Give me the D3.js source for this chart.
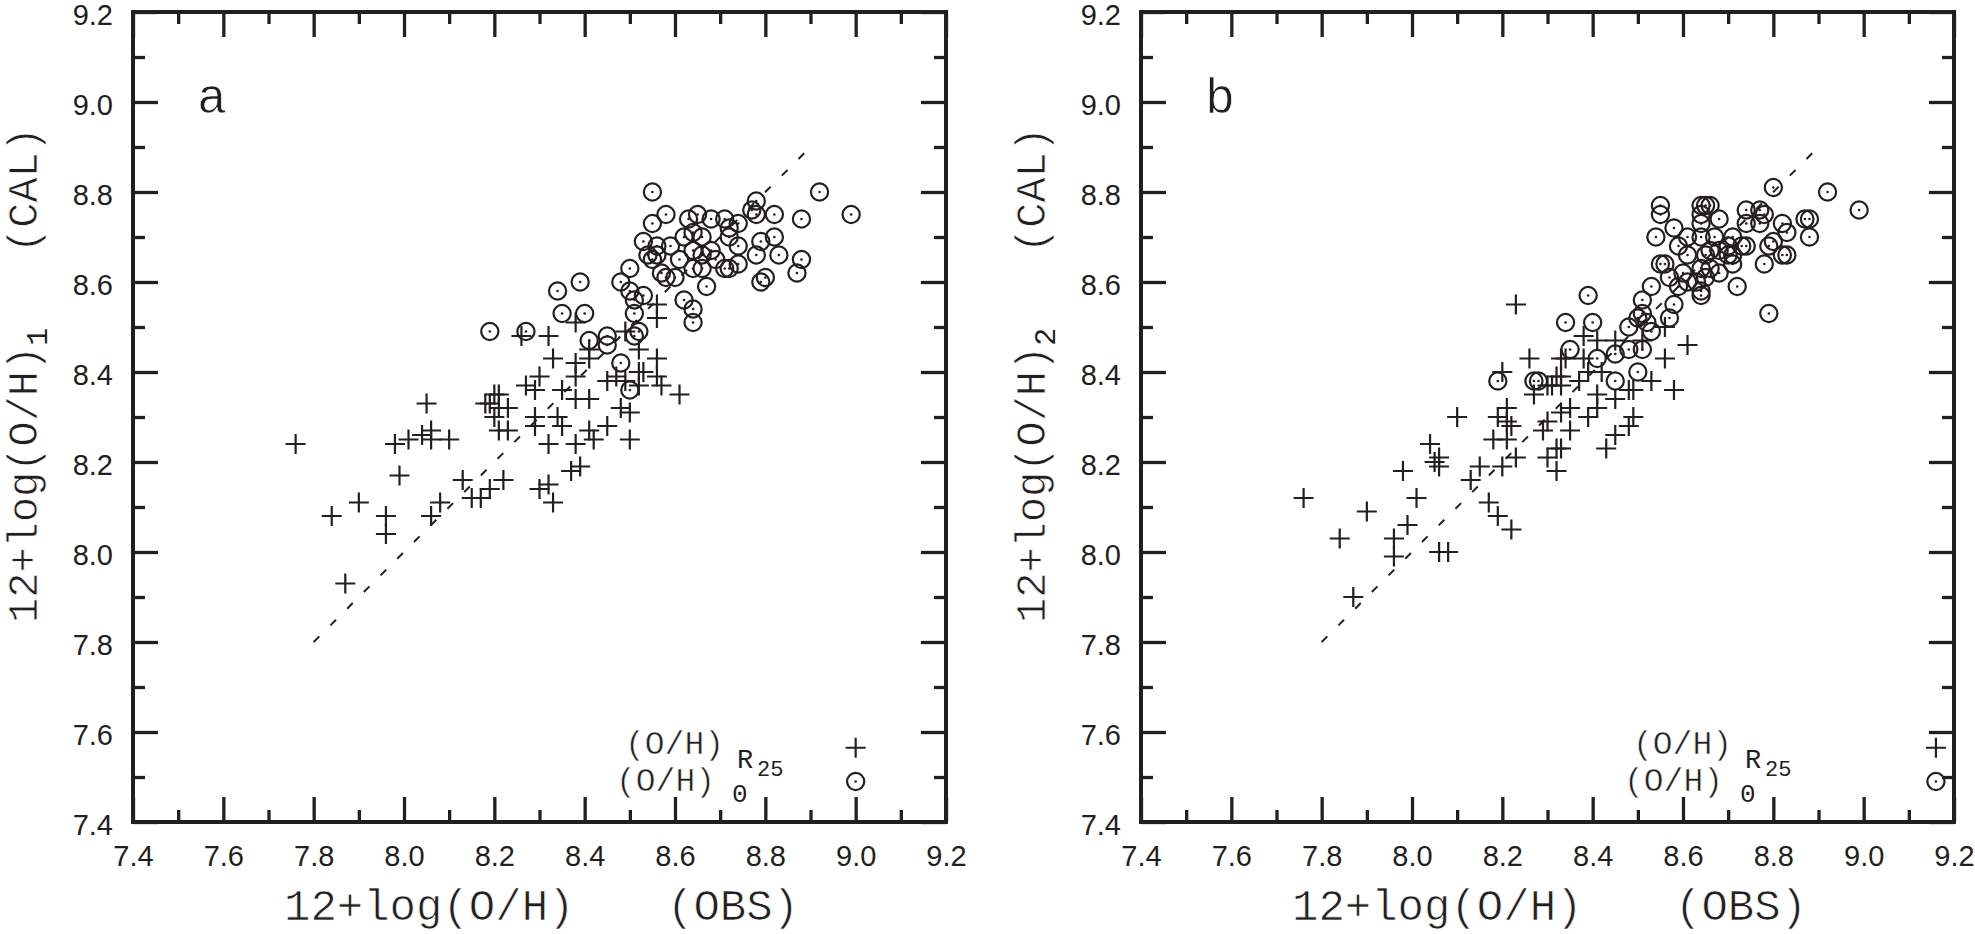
<!DOCTYPE html>
<html>
<head>
<meta charset="utf-8">
<script src="https://cdn.jsdelivr.net/npm/d3@7"></script>
<style>
    body { margin: 0; background: #fff; }
    svg { display: block; }
    .tick text { font-family: "Liberation Sans", Arial, sans-serif; font-size: 29px; fill: #231f20; }
    .tick line { stroke: #231f20; stroke-width: 3.3px; }
    .mono { font-family: "Liberation Mono", "Courier New", monospace; fill: #231f20; stroke: #fff; stroke-width: 0.7px; }
    .mono.mid { stroke-width: 0.5px; }
    .mono.small, .mono .small { stroke-width: 0; }
</style>
</head>
<body>
<svg width="1975" height="934"></svg>
<script>
/*global d3*/
// values: [12+log(O/H) obs, 12+log(O/H) cal]
var aPlus = [
    [7.76, 8.24], [8.05, 8.33], [7.98, 8.24], [8.01, 8.25], [8.04, 8.26], [8.06, 8.27],
    [8.06, 8.25], [8.10, 8.25], [7.99, 8.17], [7.90, 8.11], [7.84, 8.08], [7.96, 8.08],
    [7.96, 8.04], [7.87, 7.93], [8.08, 8.11], [8.06, 8.08], [8.13, 8.16], [8.15, 8.12],
    [8.17, 8.12], [8.19, 8.14], [8.22, 8.16], [8.30, 8.14], [8.32, 8.15], [8.33, 8.11],
    [8.21, 8.27], [8.23, 8.27], [8.18, 8.33], [8.20, 8.35], [8.21, 8.35], [8.21, 8.32],
    [8.23, 8.32], [8.20, 8.30], [8.19, 8.33], [8.27, 8.37], [8.30, 8.39], [8.29, 8.36],
    [8.33, 8.43], [8.32, 8.48], [8.29, 8.30], [8.29, 8.28], [8.32, 8.24], [8.26, 8.48],
    [8.56, 8.55], [8.56, 8.52], [8.38, 8.51], [8.49, 8.49], [8.52, 8.45], [8.56, 8.43],
    [8.41, 8.43], [8.38, 8.42], [8.41, 8.45], [8.52, 8.40], [8.53, 8.40], [8.45, 8.38],
    [8.47, 8.39], [8.49, 8.38], [8.52, 8.37], [8.56, 8.39], [8.57, 8.37], [8.61, 8.35],
    [8.38, 8.39], [8.35, 8.36], [8.41, 8.34], [8.38, 8.34], [8.48, 8.32], [8.50, 8.31],
    [8.34, 8.30], [8.35, 8.28], [8.38, 8.24], [8.41, 8.27], [8.45, 8.28], [8.42, 8.25],
    [8.50, 8.25], [8.39, 8.19], [8.37, 8.18]
];
var aCirc = [
    [8.19, 8.49], [8.27, 8.49], [8.55, 8.80], [8.92, 8.80], [8.99, 8.75], [8.78, 8.78],
    [8.77, 8.76], [8.78, 8.75], [8.82, 8.75], [8.88, 8.74], [8.58, 8.75], [8.55, 8.73],
    [8.63, 8.74], [8.65, 8.75], [8.68, 8.74], [8.71, 8.74], [8.74, 8.73], [8.72, 8.72],
    [8.72, 8.70], [8.74, 8.68], [8.79, 8.69], [8.82, 8.70], [8.83, 8.66], [8.78, 8.66],
    [8.88, 8.65], [8.87, 8.62], [8.80, 8.61], [8.79, 8.60], [8.74, 8.64], [8.71, 8.63],
    [8.72, 8.63], [8.67, 8.59], [8.62, 8.56], [8.64, 8.54], [8.64, 8.51], [8.53, 8.69],
    [8.54, 8.66], [8.56, 8.68], [8.59, 8.68], [8.55, 8.65], [8.56, 8.66], [8.57, 8.62],
    [8.58, 8.61], [8.60, 8.61], [8.61, 8.65], [8.62, 8.70], [8.64, 8.71], [8.66, 8.70],
    [8.64, 8.67], [8.66, 8.66], [8.68, 8.67], [8.64, 8.63], [8.66, 8.63], [8.69, 8.65],
    [8.50, 8.63], [8.48, 8.60], [8.50, 8.58], [8.51, 8.56], [8.53, 8.57], [8.51, 8.53],
    [8.52, 8.49], [8.51, 8.48], [8.45, 8.48], [8.45, 8.46], [8.41, 8.47], [8.48, 8.42],
    [8.50, 8.36], [8.34, 8.58], [8.39, 8.60], [8.35, 8.53], [8.40, 8.53]
];
var bPlus = [
    [7.76, 8.12], [7.90, 8.09], [7.84, 8.03], [7.87, 7.90], [7.98, 8.18], [8.01, 8.12],
    [7.99, 8.06], [7.96, 8.03], [7.96, 7.99], [8.04, 8.24], [8.06, 8.21], [8.05, 8.20],
    [8.06, 8.19], [8.06, 8.00], [8.08, 8.00], [8.10, 8.30], [8.13, 8.16], [8.15, 8.19],
    [8.20, 8.19], [8.23, 8.21], [8.17, 8.11], [8.19, 8.08], [8.22, 8.05], [8.23, 8.55],
    [8.20, 8.40], [8.26, 8.43], [8.27, 8.35], [8.19, 8.30], [8.21, 8.32], [8.21, 8.29],
    [8.22, 8.28], [8.18, 8.25], [8.21, 8.25], [8.30, 8.29], [8.29, 8.27], [8.30, 8.21],
    [8.32, 8.18], [8.33, 8.23], [8.33, 8.31], [8.31, 8.37], [8.33, 8.39], [8.33, 8.43],
    [8.61, 8.46], [8.56, 8.43], [8.58, 8.36], [8.56, 8.50], [8.53, 8.38], [8.51, 8.47],
    [8.38, 8.48], [8.41, 8.47], [8.45, 8.47], [8.34, 8.43], [8.38, 8.43], [8.39, 8.40],
    [8.42, 8.40], [8.32, 8.39], [8.30, 8.37], [8.33, 8.37], [8.37, 8.38], [8.41, 8.35],
    [8.45, 8.34], [8.48, 8.36], [8.49, 8.36], [8.35, 8.32], [8.41, 8.32], [8.39, 8.30],
    [8.49, 8.30], [8.48, 8.28], [8.35, 8.27], [8.45, 8.26], [8.43, 8.23], [8.32, 8.23]
];
var bCirc = [
    [8.19, 8.38], [8.27, 8.38], [8.80, 8.81], [8.92, 8.80], [8.99, 8.76], [8.55, 8.77],
    [8.55, 8.75], [8.64, 8.77], [8.65, 8.77], [8.66, 8.77], [8.64, 8.75], [8.68, 8.74],
    [8.64, 8.73], [8.58, 8.72], [8.54, 8.70], [8.74, 8.76], [8.77, 8.76], [8.78, 8.75],
    [8.77, 8.73], [8.74, 8.73], [8.82, 8.73], [8.83, 8.71], [8.87, 8.74], [8.88, 8.74],
    [8.88, 8.70], [8.80, 8.69], [8.79, 8.68], [8.82, 8.66], [8.83, 8.66], [8.78, 8.64],
    [8.72, 8.59], [8.79, 8.53], [8.61, 8.70], [8.64, 8.70], [8.67, 8.70], [8.59, 8.68],
    [8.71, 8.70], [8.74, 8.68], [8.73, 8.68], [8.70, 8.68], [8.68, 8.67], [8.66, 8.67],
    [8.65, 8.66], [8.61, 8.66], [8.71, 8.66], [8.70, 8.66], [8.71, 8.64], [8.68, 8.62],
    [8.66, 8.63], [8.64, 8.63], [8.65, 8.61], [8.55, 8.64], [8.56, 8.64], [8.60, 8.62],
    [8.57, 8.61], [8.59, 8.59], [8.61, 8.60], [8.63, 8.60], [8.64, 8.58], [8.64, 8.57],
    [8.53, 8.59], [8.58, 8.55], [8.57, 8.52], [8.51, 8.56], [8.51, 8.53], [8.48, 8.50],
    [8.50, 8.52], [8.53, 8.49], [8.52, 8.51], [8.39, 8.57], [8.34, 8.51], [8.40, 8.51],
    [8.35, 8.45], [8.41, 8.43], [8.45, 8.44], [8.48, 8.45], [8.51, 8.45], [8.45, 8.38],
    [8.50, 8.40], [8.28, 8.38]
];
var majorTicks = [7.4, 7.6, 7.8, 8.0, 8.2, 8.4, 8.6, 8.8, 9.0, 9.2];
var minorTicks = [7.5, 7.7, 7.9, 8.1, 8.3, 8.5, 8.7, 8.9, 9.1];
var diagonal = [7.8, 8.9];

(function () {
    'use strict';

    var svg = d3.select("svg");
    var ink = "#231f20";

    function plus(sel) {
        sel.append("path")
            .attr("d", "M-10,0H10M0,-10V10")
            .attr("stroke", ink)
            .attr("stroke-width", 2.2)
            .attr("fill", "none");
    }
    function odot(sel) {
        sel.append("circle").attr("r", 8.6)
            .attr("fill", "none").attr("stroke", ink).attr("stroke-width", 2.2);
        sel.append("circle").attr("r", 1.3).attr("fill", ink);
    }
    function noLabel() { return ""; }

    function drawPanel(p) {
        var g = svg.append("g");
        var x = d3.scaleLinear().domain([7.4, 9.2]).range([p.left, p.left + 813]);
        var y = d3.scaleLinear().domain([7.4, 9.2]).range([822, 12]);

        // ticks on all four sides, pointing inward
        var sides = [
            [d3.axisBottom, x, "translate(0,822)", true, 23, "bottom"],
            [d3.axisTop, x, "translate(0,12)", false, 0, "top"],
            [d3.axisLeft, y, "translate(" + p.left + ",0)", true, 20, "left"],
            [d3.axisRight, y, "translate(" + (p.left + 813) + ",0)", false, 0, "right"]
        ];
        sides.forEach(function (s) {
            var major = s[0](s[1]).tickValues(majorTicks).tickSizeInner(-25).tickSizeOuter(0)
                .tickPadding(s[4])
                .tickFormat(s[3] ? d3.format(".1f") : noLabel);
            var minor = s[0](s[1]).tickValues(minorTicks).tickSizeInner(-12).tickSizeOuter(0)
                .tickFormat(noLabel);
            g.append("g").attr("class", "ax-" + s[5]).attr("transform", s[2]).call(major)
                .call(function (a) { a.select(".domain").remove(); });
            g.append("g").attr("transform", s[2]).call(minor)
                .call(function (a) { a.select(".domain").remove(); });
        });
        g.selectAll(".tick text").attr("fill", ink);
        g.selectAll(".ax-left .tick text").attr("dy", "0.42em");

        g.append("rect")
            .attr("x", p.left).attr("y", 12)
            .attr("width", 813).attr("height", 810)
            .attr("fill", "none").attr("stroke", ink).attr("stroke-width", 4);

        // one-to-one line
        g.append("line")
            .attr("x1", x(diagonal[0])).attr("y1", y(diagonal[0]))
            .attr("x2", x(diagonal[1])).attr("y2", y(diagonal[1]))
            .attr("stroke", ink).attr("stroke-width", 2)
            .attr("stroke-dasharray", "8,15.6");

        g.selectAll(".pl").data(p.plus).enter().append("g")
            .attr("class", "pl")
            .attr("transform", function (d) { return "translate(" + x(d[0]) + "," + y(d[1]) + ")"; })
            .call(plus);
        g.selectAll(".ci").data(p.circ).enter().append("g")
            .attr("class", "ci")
            .attr("transform", function (d) { return "translate(" + x(d[0]) + "," + y(d[1]) + ")"; })
            .call(odot);

        // panel letter
        g.append("text").attr("class", "mono")
            .attr("x", p.left + 64).attr("y", 113)
            .attr("font-size", 50).text(p.letter);

        // axis titles
        g.append("text").attr("class", "mono")
            .attr("x", p.left + 151).attr("y", 920)
            .attr("font-size", 44).text("12+log(O/H)");
        g.append("text").attr("class", "mono")
            .attr("x", p.left + 534).attr("y", 920)
            .attr("font-size", 44).text("(OBS)");

        var yt = g.append("text").attr("class", "mono")
            .attr("font-size", 42)
            .attr("transform", "translate(" + (p.left - 96) + ",623) rotate(-90)");
        yt.append("tspan").text("12+log(O/H)");
        yt.append("tspan").attr("class", "small").attr("font-size", 30).attr("dy", 10).text(p.sub);
        yt.append("tspan").attr("x", 370).attr("dy", -10).text("(CAL)");

        // legend
        g.append("text").attr("class", "mono mid").attr("font-size", 33)
            .attr("x", p.left + 492).attr("y", 754).text("(O/H)");
        g.append("text").attr("class", "mono small").attr("font-size", 27)
            .attr("x", p.left + 604).attr("y", 768).text("R");
        g.append("text").attr("class", "mono small").attr("font-size", 22)
            .attr("x", p.left + 624).attr("y", 776).text("25");
        g.append("text").attr("class", "mono mid").attr("font-size", 33)
            .attr("x", p.left + 483).attr("y", 791).text("(O/H)");
        g.append("text").attr("class", "mono small").attr("font-size", 26)
            .attr("x", p.left + 599).attr("y", 802).text("0");

        g.append("g").attr("transform", "translate(" + x(p.legendX) + "," + y(7.565) + ")").call(plus);
        g.append("g").attr("transform", "translate(" + x(p.legendX) + "," + y(7.49) + ")").call(odot);
    }

    drawPanel({left: 133, plus: aPlus, circ: aCirc, letter: "a", sub: "1", legendX: 9.0});
    drawPanel({left: 1141, plus: bPlus, circ: bCirc, letter: "b", sub: "2", legendX: 9.16});
}());
</script>
</body>
</html>
